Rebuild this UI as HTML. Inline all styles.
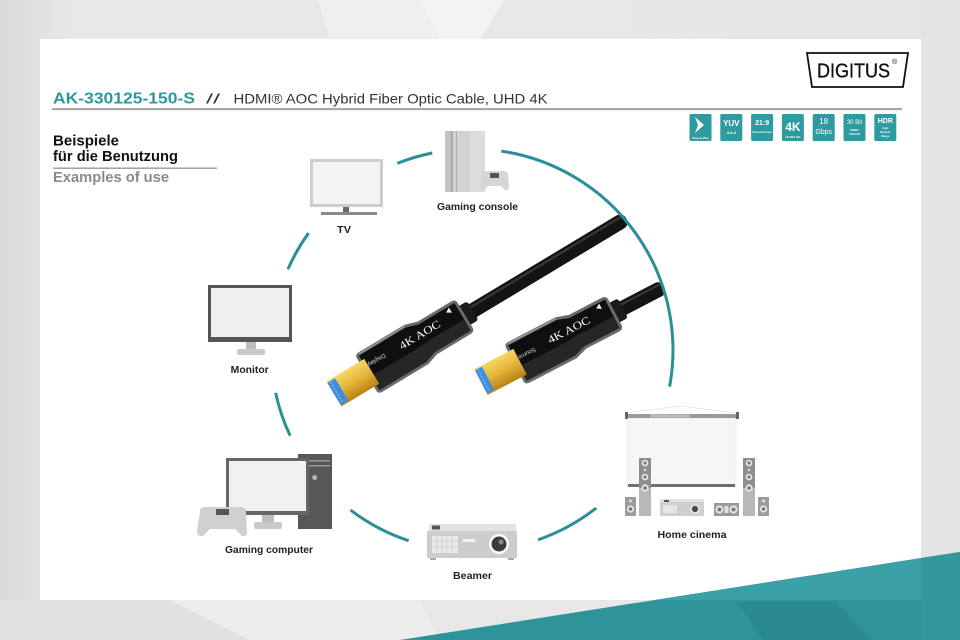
<!DOCTYPE html>
<html><head><meta charset="utf-8"><style>
html,body{margin:0;padding:0;width:960px;height:640px;overflow:hidden;background:#e7e7e7}
svg{display:block}
text{font-family:"Liberation Sans",sans-serif}
</style></head><body>
<svg width="960" height="640" viewBox="0 0 960 640" xmlns="http://www.w3.org/2000/svg">
<defs>
<linearGradient id="gold" x1="0" y1="0" x2="0" y2="1">
<stop offset="0" stop-color="#f6d767"/><stop offset="0.5" stop-color="#e4b43a"/><stop offset="1" stop-color="#b98314"/>
</linearGradient>
<linearGradient id="bgl" x1="0" y1="0" x2="1" y2="0">
<stop offset="0" stop-color="#dadada"/><stop offset="0.08" stop-color="#e8e8e8"/><stop offset="1" stop-color="#e6e6e6"/>
</linearGradient>
</defs>
<!-- background -->
<rect x="0" y="0" width="960" height="640" fill="url(#bgl)"/>
<polygon points="318,0 505,0 470,39 330,39" fill="#efefef"/>
<polygon points="420,0 505,0 480,39 440,39" fill="#f3f3f3"/>
<polygon points="0,600 170,600 250,640 0,640" fill="#e1e1e1"/>
<polygon points="170,600 420,600 440,640 250,640" fill="#ececec"/>
<polygon points="921,0 960,0 960,560 921,560" fill="#e4e4e4"/>
<!-- card -->
<rect x="40" y="39" width="881" height="561" fill="#ffffff"/>
<!-- teal -->
<polygon points="400,640 960,552 960,640" fill="#2f939b"/>
<polygon points="655,600 921,558 921,600" fill="#3ba0a8"/>
<polygon points="738,602 836,602 872,640 762,640" fill="#2b8991"/>
<polygon points="921,558 960,552 960,640 921,640" fill="#33979f"/>

<!-- logo -->
<polygon points="807,53 908,53 903,87 812,87" fill="#fff" stroke="#111" stroke-width="1.8"/>
<text x="817" y="77.5" font-size="20.5" textLength="73" lengthAdjust="spacingAndGlyphs" fill="#111" stroke="#111" stroke-width="0.35" style="font-family:'Liberation Sans Narrow','Liberation Sans',sans-serif">DIGITUS</text>
<text x="892" y="64" font-size="7" fill="#111">®</text>

<!-- title -->
<text x="53" y="103.5" font-size="15.5" font-weight="bold" fill="#2b989e" textLength="142" lengthAdjust="spacingAndGlyphs">AK-330125-150-S</text>
<text x="206" y="103.5" font-size="14" fill="#333" textLength="14" lengthAdjust="spacingAndGlyphs">//</text>
<text x="233.5" y="103.5" font-size="14" fill="#333" textLength="314" lengthAdjust="spacingAndGlyphs">HDMI® AOC Hybrid Fiber Optic Cable, UHD 4K</text>
<rect x="52" y="108" width="850" height="2.2" fill="#a9a9a9"/>

<!-- badges -->
<g fill="#2e9ba1">
<rect x="689.5" y="114" width="22" height="27" rx="1.5"/>
<rect x="720.3" y="114" width="22" height="27" rx="1.5"/>
<rect x="751.1" y="114" width="22" height="27" rx="1.5"/>
<rect x="781.9" y="114" width="22" height="27" rx="1.5"/>
<rect x="812.7" y="114" width="22" height="27" rx="1.5"/>
<rect x="843.5" y="114" width="22" height="27" rx="1.5"/>
<rect x="874.3" y="114" width="22" height="27" rx="1.5"/>
</g>
<g fill="#fff" text-anchor="middle" font-weight="bold">
<polygon points="695,117 704,125 695,133 698,125" fill="#fff"/>
<text x="700.5" y="139" font-size="3">Plug &amp; Play</text>
<text x="731.3" y="126" font-size="8">YUV</text>
<text x="731.3" y="134" font-size="4">4:4:4</text>
<text x="762.1" y="125" font-size="7">21:9</text>
<text x="762.1" y="133" font-size="3">Cinemascope</text>
<text x="792.9" y="131" font-size="12">4K</text>
<text x="792.9" y="138" font-size="3">ULTRA HD</text>
<text x="823.7" y="124" font-size="8" font-weight="normal">18</text>
<text x="823.7" y="134" font-size="7" font-weight="normal">Gbps</text>
<text x="854.5" y="124" font-size="6" font-weight="normal">30 Bit</text>
<text x="854.5" y="131" font-size="3">DEEP</text>
<text x="854.5" y="135" font-size="3">COLOR</text>
<text x="885.3" y="123" font-size="7">HDR</text>
<text x="885.3" y="129" font-size="2.6">High</text>
<text x="885.3" y="133" font-size="2.6">Dynamic</text>
<text x="885.3" y="137" font-size="2.6">Range</text>
</g>

<!-- left headings -->
<text x="53" y="145.7" font-size="14.5" font-weight="bold" fill="#111" textLength="66" lengthAdjust="spacingAndGlyphs">Beispiele</text>
<text x="53" y="161" font-size="14.5" font-weight="bold" fill="#111" textLength="125" lengthAdjust="spacingAndGlyphs">für die Benutzung</text>
<rect x="53" y="167.5" width="164" height="1.4" fill="#9a9a9a"/>
<text x="53" y="182" font-size="14.5" font-weight="bold" fill="#8a8a8a" textLength="116" lengthAdjust="spacingAndGlyphs">Examples of use</text>

<!-- TV -->
<rect x="310" y="159" width="73" height="48" fill="#cdcdcd"/>
<rect x="313" y="162" width="67" height="42" fill="#f3f3f3"/>
<rect x="343" y="207" width="6" height="5" fill="#6a6a6a"/>
<rect x="321" y="212" width="56" height="3" fill="#8a8a8a"/>
<text x="344" y="233" font-size="10" font-weight="bold" fill="#222" text-anchor="middle" textLength="14" lengthAdjust="spacingAndGlyphs">TV</text>

<!-- Gaming console -->
<rect x="445" y="131" width="40" height="61" fill="#d2d2d2"/>
<rect x="445" y="131" width="8" height="61" fill="#c2c2c2"/>
<rect x="451" y="131" width="1.2" height="61" fill="#9e9e9e"/>
<rect x="456" y="131" width="1" height="61" fill="#b0b0b0"/>
<rect x="470" y="131" width="15" height="61" fill="#dcdcdc"/>
<path d="M482,174 Q481,171 485,171 L504,171 Q508,171 508,175 L509,187 Q509,191 505,190 L501,186 L488,186 L484,190 Q480,191 480,187 Z" fill="#d6d6d6"/>
<rect x="490" y="173" width="9" height="5" fill="#555"/>
<text x="477.5" y="210" font-size="10" font-weight="bold" fill="#222" text-anchor="middle" textLength="81" lengthAdjust="spacingAndGlyphs">Gaming console</text>

<!-- Monitor -->
<rect x="208" y="285" width="84" height="57" fill="#555"/>
<rect x="211" y="288" width="78" height="49" fill="#efefef"/>
<rect x="246" y="342" width="10" height="8" fill="#bdbdbd"/>
<rect x="237" y="349" width="28" height="6" rx="2" fill="#c9c9c9"/>
<text x="249.7" y="373" font-size="10" font-weight="bold" fill="#222" text-anchor="middle" textLength="38" lengthAdjust="spacingAndGlyphs">Monitor</text>

<!-- Gaming computer -->
<rect x="298" y="454" width="34" height="75" fill="#575757"/>
<rect x="300" y="460" width="30" height="1.5" fill="#9a9a9a"/>
<rect x="300" y="465" width="30" height="1.5" fill="#9a9a9a"/>
<circle cx="314.7" cy="477.5" r="2.5" fill="#b5b5b5"/>
<rect x="226" y="458" width="83" height="57" fill="#666"/>
<rect x="229" y="461" width="77" height="50" fill="#f1f1f1"/>
<rect x="262" y="515" width="12" height="8" fill="#bdbdbd"/>
<rect x="254" y="522" width="28" height="7" rx="2" fill="#c9c9c9"/>
<path d="M200,512 Q199,507 205,507 L240,507 Q246,507 246,512 L247,532 Q247,537 242,536 L235,529 L210,529 L203,536 Q197,537 197,531 Z" fill="#d0d0d0"/>
<rect x="216" y="509" width="13" height="6" fill="#555"/>
<text x="269" y="553" font-size="10" font-weight="bold" fill="#222" text-anchor="middle" textLength="88" lengthAdjust="spacingAndGlyphs">Gaming computer</text>

<!-- Beamer -->
<rect x="429" y="524" width="87" height="8" rx="2" fill="#e2e2e2"/>
<rect x="427" y="531" width="90" height="27" fill="#cdcdcd"/>
<rect x="432" y="536" width="26" height="17" fill="#e9e9e9"/>
<g stroke="#cdcdcd" stroke-width="0.8">
<line x1="432" y1="541" x2="458" y2="541"/><line x1="432" y1="547" x2="458" y2="547"/>
<line x1="437" y1="536" x2="437" y2="553"/><line x1="442" y1="536" x2="442" y2="553"/>
<line x1="447" y1="536" x2="447" y2="553"/><line x1="452" y1="536" x2="452" y2="553"/>
</g>
<rect x="432" y="525.5" width="8" height="4" fill="#555"/>
<rect x="463" y="539" width="12" height="3" fill="#f4f4f4"/>
<circle cx="499" cy="544" r="10" fill="#fafafa"/>
<circle cx="499" cy="544" r="7.5" fill="#3d3d3d"/>
<circle cx="501" cy="542" r="2.5" fill="#8a8a8a"/>
<rect x="430" y="558" width="6" height="2" fill="#aaa"/><rect x="508" y="558" width="6" height="2" fill="#aaa"/>
<text x="472.5" y="579" font-size="10" font-weight="bold" fill="#222" text-anchor="middle" textLength="39" lengthAdjust="spacingAndGlyphs">Beamer</text>

<!-- Home cinema -->
<line x1="681" y1="406" x2="627" y2="413" stroke="#e4e4e4" stroke-width="0.8"/>
<line x1="681" y1="406" x2="736" y2="413" stroke="#e4e4e4" stroke-width="0.8"/>
<rect x="627" y="418" width="109" height="68" fill="#f6f6f6" stroke="#e8e8e8" stroke-width="0.8"/>
<rect x="626" y="414" width="112" height="4" fill="#9a9a9a"/>
<rect x="650" y="414.5" width="40" height="3" fill="#bdbdbd"/>
<rect x="625" y="412" width="3" height="7" fill="#666"/><rect x="736" y="412" width="3" height="7" fill="#666"/>
<rect x="628" y="484" width="107" height="3" fill="#6f6f6f"/>
<g>
<rect x="639" y="458" width="12" height="30" fill="#8e8e8e"/>
<rect x="639" y="488" width="12" height="28" fill="#b8b8b8"/>
<circle cx="645" cy="463" r="3.3" fill="#e8e8e8"/><circle cx="645" cy="463" r="1.6" fill="#777"/>
<circle cx="645" cy="470" r="1.3" fill="#ddd"/>
<circle cx="645" cy="477" r="3.3" fill="#e8e8e8"/><circle cx="645" cy="477" r="1.6" fill="#777"/>
<circle cx="645" cy="488" r="3.6" fill="#e8e8e8"/><circle cx="645" cy="488" r="1.8" fill="#777"/>
<rect x="743" y="458" width="12" height="30" fill="#8e8e8e"/>
<rect x="743" y="488" width="12" height="28" fill="#b8b8b8"/>
<circle cx="749" cy="463" r="3.3" fill="#e8e8e8"/><circle cx="749" cy="463" r="1.6" fill="#777"/>
<circle cx="749" cy="470" r="1.3" fill="#ddd"/>
<circle cx="749" cy="477" r="3.3" fill="#e8e8e8"/><circle cx="749" cy="477" r="1.6" fill="#777"/>
<circle cx="749" cy="488" r="3.6" fill="#e8e8e8"/><circle cx="749" cy="488" r="1.8" fill="#777"/>
<rect x="625" y="497" width="11" height="19" fill="#9c9c9c"/>
<circle cx="630.5" cy="501" r="1.5" fill="#e0e0e0"/>
<circle cx="630.5" cy="509" r="3.6" fill="#e8e8e8"/><circle cx="630.5" cy="509" r="1.8" fill="#777"/>
<rect x="758" y="497" width="11" height="19" fill="#9c9c9c"/>
<circle cx="763.5" cy="501" r="1.5" fill="#e0e0e0"/>
<circle cx="763.5" cy="509" r="3.6" fill="#e8e8e8"/><circle cx="763.5" cy="509" r="1.8" fill="#777"/>
<rect x="660" y="499" width="44" height="17" fill="#cfcfcf"/>
<rect x="660" y="499" width="44" height="3" fill="#e0e0e0"/>
<rect x="664" y="500" width="5" height="2" fill="#555"/>
<rect x="663" y="505" width="14" height="8" fill="#e6e6e6"/>
<circle cx="695" cy="509" r="4.5" fill="#f2f2f2"/><circle cx="695" cy="509" r="3.2" fill="#4a4a4a"/>
<rect x="714" y="503" width="25" height="13" fill="#999"/>
<circle cx="719.5" cy="509.5" r="4" fill="#e8e8e8"/><circle cx="719.5" cy="509.5" r="2" fill="#777"/>
<circle cx="733.5" cy="509.5" r="4" fill="#e8e8e8"/><circle cx="733.5" cy="509.5" r="2" fill="#777"/>
<rect x="724.5" y="506" width="4" height="7" fill="#e0e0e0"/>
</g>
<text x="692" y="538" font-size="10" font-weight="bold" fill="#222" text-anchor="middle" textLength="69" lengthAdjust="spacingAndGlyphs">Home cinema</text>

<!-- Left plug -->
<g transform="translate(334,394) rotate(-31)">
<rect x="150" y="-7.5" width="191" height="15" rx="7" fill="#141414"/>
<rect x="155" y="-5" width="182" height="2" fill="#3a3a3a"/>
<rect x="148" y="-11" width="14" height="22" rx="3" fill="#1b1b1b"/>
<path d="M38,-19 Q38,-23 43,-23 L96,-23 L109,-19 L148,-19 Q153,-19 153,-14 L153,14 Q153,19 148,19 L109,19 L96,23 L43,23 Q38,23 38,19 Z" fill="#6a6a6a"/>
<path d="M41,-20 L96,-20 L108,-16 L150,-16 L150,16 L108,16 L96,20 L41,20 Z" fill="#0f0f0f"/>
<path d="M41,4 L96,4 L108,3 L150,3 L150,16 L108,16 L96,20 L41,20 Z" fill="#262626"/>
<line x1="42" y1="-21.5" x2="96" y2="-21.5" stroke="#a8a8a8" stroke-width="1"/>
<rect x="0" y="-14.5" width="44" height="29" fill="url(#gold)"/>
<rect x="0" y="-13" width="9" height="26" fill="#3f8fdd"/>
<line x1="3" y1="-12" x2="3" y2="12" stroke="#8cc0f0" stroke-width="1" stroke-dasharray="2,1.5"/>
<text x="104" y="-3" font-size="11" fill="#fff" text-anchor="middle" textLength="46" lengthAdjust="spacingAndGlyphs" style="font-family:'Liberation Serif',serif">4K AOC</text>
<text x="-54" y="9" font-size="6" fill="#ddd" text-anchor="middle" transform="rotate(180)">Display</text>
<polygon points="138,-12 143,-9 143,-15" fill="#eee"/>
</g>

<!-- Right plug -->
<g transform="translate(481,382) rotate(-27.5)">
<rect x="148" y="-7.5" width="58" height="15" rx="6" fill="#141414"/>
<rect x="153" y="-5" width="51" height="2" fill="#3a3a3a"/>
<rect x="146" y="-11" width="14" height="22" rx="3" fill="#1b1b1b"/>
<path d="M38,-19 Q38,-23 43,-23 L96,-23 L109,-19 L146,-19 Q151,-19 151,-14 L151,14 Q151,19 146,19 L109,19 L96,23 L43,23 Q38,23 38,19 Z" fill="#6a6a6a"/>
<path d="M41,-20 L96,-20 L108,-16 L148,-16 L148,16 L108,16 L96,20 L41,20 Z" fill="#0f0f0f"/>
<path d="M41,4 L96,4 L108,3 L148,3 L148,16 L108,16 L96,20 L41,20 Z" fill="#262626"/>
<line x1="42" y1="-21.5" x2="96" y2="-21.5" stroke="#a8a8a8" stroke-width="1"/>
<rect x="0" y="-14.5" width="44" height="29" fill="url(#gold)"/>
<rect x="0" y="-13" width="8" height="26" fill="#3f8fdd"/>
<line x1="3" y1="-12" x2="3" y2="12" stroke="#8cc0f0" stroke-width="1" stroke-dasharray="2,1.5"/>
<text x="102" y="-2" font-size="11" fill="#fff" text-anchor="middle" textLength="46" lengthAdjust="spacingAndGlyphs" style="font-family:'Liberation Serif',serif">4K AOC</text>
<text x="-54" y="6" font-size="6" fill="#ddd" text-anchor="middle" transform="rotate(180)">Source</text>
<polygon points="136,-12 141,-9 141,-15" fill="#eee"/>
</g>

<!-- teal circle arcs -->
<g fill="none" stroke="#2a8f96" stroke-width="3">
<path d="M397.3,163.4 A201,201 0 0 1 432.3,153"/>
<path d="M501.4,151.1 A201,201 0 0 1 669.6,386.6"/>
<path d="M287.9,269.2 A201,201 0 0 1 308.6,233"/>
<path d="M290.1,435.6 A201,201 0 0 1 275.6,392.8"/>
<path d="M408.6,540.7 A201,201 0 0 1 350.5,510.1"/>
<path d="M596.3,508 A201,201 0 0 1 538.1,539.8"/>
</g>
</svg>
</body></html>
